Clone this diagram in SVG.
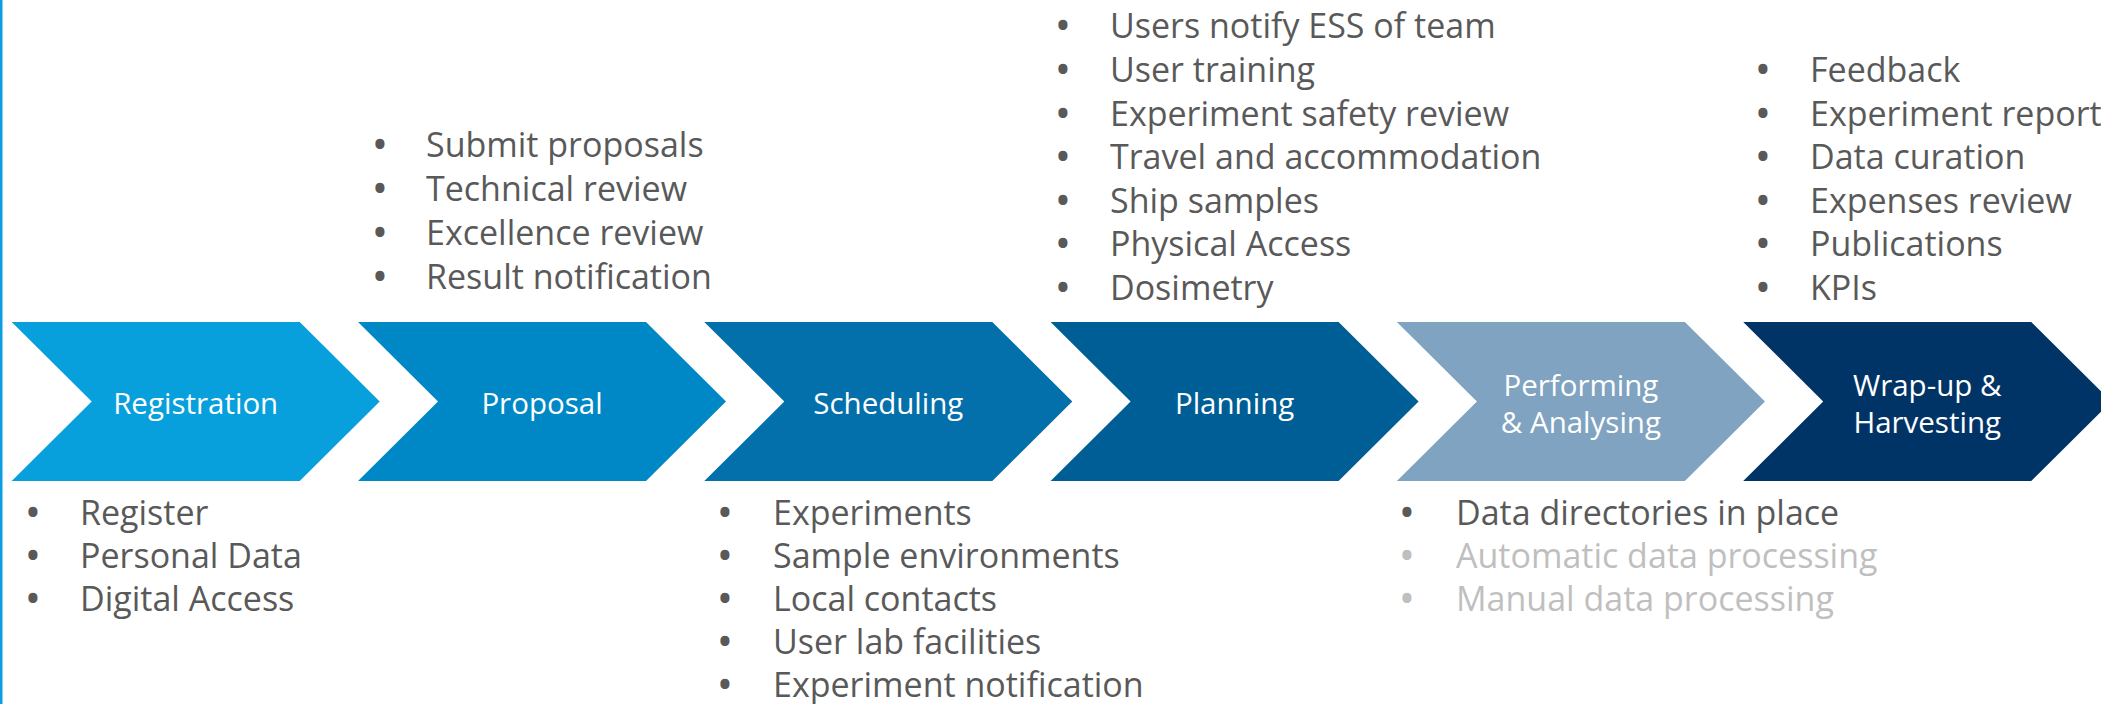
<svg xmlns="http://www.w3.org/2000/svg" xmlns:xlink="http://www.w3.org/1999/xlink" width="2101" height="704" viewBox="0 0 2101 704">
  <style>
    .lbl { font-family: "Segoe UI", "Open Sans", "Noto Sans", sans-serif; font-size: 29.5px; fill: #ffffff; text-anchor: middle; }
    .itm { font-family: "Segoe UI", "Open Sans", "Noto Sans", sans-serif; font-size: 34px; fill: #595959; }
    .blt { font-family: "Segoe UI", "Open Sans", "Noto Sans", sans-serif; font-size: 34px; fill: #595959; stroke: #595959; stroke-width: 2px; stroke-linejoin: round; text-anchor: middle; }
    .dim { fill: #bfbfbf; }
    .blt.dim { stroke: #bfbfbf; }
  </style>
  <defs>
    <polygon id="chev" points="0,0 288,0 368,79.5 288,159 0,159 80,79.5"/>
  </defs>
  <rect x="0" y="0" width="2.5" height="704" fill="#0b9ee0"/>

  <g id="registration">
    <use xlink:href="#chev" href="#chev" x="11.7" y="322" fill="#079fdc"/>
    <text class="lbl" x="195.7" y="414">Registration</text>
    <text class="blt" x="33" y="525">•</text><text class="itm" x="80" y="525">Register</text>
    <text class="blt" x="33" y="568">•</text><text class="itm" x="80" y="568">Personal Data</text>
    <text class="blt" x="33" y="611">•</text><text class="itm" x="80" y="611">Digital Access</text>
  </g>

  <g id="proposal">
    <use xlink:href="#chev" href="#chev" x="358" y="322" fill="#0088c6"/>
    <text class="lbl" x="542" y="414">Proposal</text>
    <text class="blt" x="380" y="157">•</text><text class="itm" x="426" y="157">Submit proposals</text>
    <text class="blt" x="380" y="201">•</text><text class="itm" x="426" y="201">Technical review</text>
    <text class="blt" x="380" y="245">•</text><text class="itm" x="426" y="245">Excellence review</text>
    <text class="blt" x="380" y="289">•</text><text class="itm" x="426" y="289">Result notification</text>
  </g>

  <g id="scheduling">
    <use xlink:href="#chev" href="#chev" x="704.3" y="322" fill="#0470ab"/>
    <text class="lbl" x="888.3" y="414">Scheduling</text>
    <text class="blt" x="725" y="525">•</text><text class="itm" x="773" y="525">Experiments</text>
    <text class="blt" x="725" y="568">•</text><text class="itm" x="773" y="568">Sample environments</text>
    <text class="blt" x="725" y="611">•</text><text class="itm" x="773" y="611">Local contacts</text>
    <text class="blt" x="725" y="654">•</text><text class="itm" x="773" y="654">User lab facilities</text>
    <text class="blt" x="725" y="697">•</text><text class="itm" x="773" y="697">Experiment notification</text>
  </g>

  <g id="planning">
    <use xlink:href="#chev" href="#chev" x="1050.6" y="322" fill="#005e96"/>
    <text class="lbl" x="1234.6" y="414">Planning</text>
    <text class="blt" x="1063" y="38">•</text><text class="itm" x="1110" y="38">Users notify ESS of team</text>
    <text class="blt" x="1063" y="82">•</text><text class="itm" x="1110" y="82">User training</text>
    <text class="blt" x="1063" y="125.5">•</text><text class="itm" x="1110" y="125.5">Experiment safety review</text>
    <text class="blt" x="1063" y="169">•</text><text class="itm" x="1110" y="169">Travel and accommodation</text>
    <text class="blt" x="1063" y="212.5">•</text><text class="itm" x="1110" y="212.5">Ship samples</text>
    <text class="blt" x="1063" y="256">•</text><text class="itm" x="1110" y="256">Physical Access</text>
    <text class="blt" x="1063" y="299.5">•</text><text class="itm" x="1110" y="299.5">Dosimetry</text>
  </g>

  <g id="performing">
    <use xlink:href="#chev" href="#chev" x="1396.9" y="322" fill="#7fa3c0"/>
    <text class="lbl" x="1580.9" y="396">Performing</text>
    <text class="lbl" x="1580.9" y="432.5">&amp; Analysing</text>
    <text class="blt" x="1407" y="525">•</text><text class="itm" x="1456" y="525">Data directories in place</text>
    <text class="blt dim" x="1407" y="568">•</text><text class="itm dim" x="1456" y="568">Automatic data processing</text>
    <text class="blt dim" x="1407" y="611">•</text><text class="itm dim" x="1456" y="611">Manual data processing</text>
  </g>

  <g id="wrapup">
    <use xlink:href="#chev" href="#chev" x="1743.2" y="322" fill="#013466"/>
    <text class="lbl" x="1927.2" y="396">Wrap-up &amp;</text>
    <text class="lbl" x="1927.2" y="432.5">Harvesting</text>
    <text class="blt" x="1763" y="82">•</text><text class="itm" x="1810" y="82">Feedback</text>
    <text class="blt" x="1763" y="125.5">•</text><text class="itm" x="1810" y="125.5">Experiment report</text>
    <text class="blt" x="1763" y="169">•</text><text class="itm" x="1810" y="169">Data curation</text>
    <text class="blt" x="1763" y="212.5">•</text><text class="itm" x="1810" y="212.5">Expenses review</text>
    <text class="blt" x="1763" y="256">•</text><text class="itm" x="1810" y="256">Publications</text>
    <text class="blt" x="1763" y="299.5">•</text><text class="itm" x="1810" y="299.5">KPIs</text>
  </g>
</svg>
